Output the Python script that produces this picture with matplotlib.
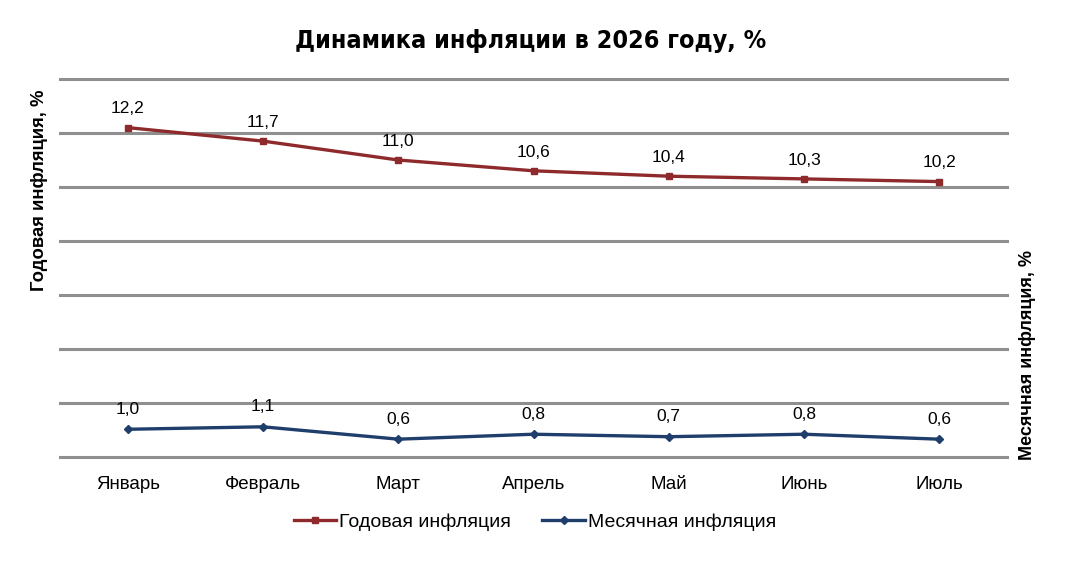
import matplotlib
matplotlib.use("Agg")
import matplotlib.pyplot as plt

months = ["Январь", "Февраль", "Март", "Апрель", "Май", "Июнь", "Июль"]
annual = [12.2, 11.7, 11.0, 10.6, 10.4, 10.3, 10.2]
monthly = [1.0, 1.1, 0.6, 0.8, 0.7, 0.8, 0.6]
annual_label = "Годовая инфляция"
monthly_label = "Месячная инфляция"
title = "Динамика инфляции в 2026 году, %"
left_ylabel = "Годовая инфляция, %"
right_ylabel = "Месячная инфляция, %"

base = ["Liberation Sans", "DejaVu Sans"]
plt.rcParams["font.family"] = base

RED = "#8e2a2c"
BLUE = "#1f3e6b"
GRID = "#8f8f8f"

fig = plt.figure(figsize=(10.69, 5.66), dpi=100)
ax = fig.add_axes([60/1069, 1-457/566, (1007-60)/1069, (457-79)/566])
ax2 = ax.twinx()

x = list(range(len(months)))
ax.set_xlim(-0.5, 6.5)
ax.set_ylim(0, 14)
ax.set_yticks(range(0, 15, 2))
ax.yaxis.grid(True, color=GRID, linewidth=2.2)
for gl in ax.get_ygridlines():
    gl.set_clip_on(False)
ax.set_axisbelow(True)
ax.tick_params(axis="y", left=False, labelleft=False)
ax.tick_params(axis="x", bottom=False, pad=10, labelsize=13.5)
ax.set_xticks(x)
ax.set_xticklabels(months)
for s in ax.spines.values():
    s.set_visible(False)
for s in ax2.spines.values():
    s.set_visible(False)

ax2.set_ylim(-0.12, 15.15)
ax2.tick_params(axis="y", right=False, labelright=False)

l1, = ax.plot(x, annual, color=RED, linewidth=2.4, marker="s", markersize=5, label=annual_label, zorder=3)
l2, = ax2.plot(x, monthly, color=BLUE, linewidth=2.4, marker="D", markersize=4.5, label=monthly_label, zorder=3)

for xi, v in zip(x, annual):
    ax.annotate(f"{v:.1f}".replace(".", ","), (xi, v), xytext=(0, 8), textcoords="offset points",
                ha="center", va="bottom", fontsize=12.5)
for xi, v in zip(x, monthly):
    ax2.annotate(f"{v:.1f}".replace(".", ","), (xi, v), xytext=(0, 9), textcoords="offset points",
                 ha="center", va="bottom", fontsize=12.5)

fig.text(531/1069, 1-41/566, title, ha="center", va="center", fontsize=18, fontweight="bold",
         family=["DejaVu Sans"], fontstretch="condensed")
fig.text(40/1069, 1-190/566, left_ylabel, rotation=90, ha="center", va="center",
         fontsize=13.3, fontweight="bold")
fig.text(1027/1069, 1-355/566, right_ylabel, rotation=90, ha="center", va="center",
         fontsize=13, fontweight="bold")

fig.legend([l1, l2], [annual_label, monthly_label], loc="center", bbox_to_anchor=(535/1069, 1-522/566),
           ncol=2, frameon=False, fontsize=14, handlelength=2.2, columnspacing=1.6, handletextpad=0.15)

fig.savefig("out.png", dpi=100, facecolor="white")
